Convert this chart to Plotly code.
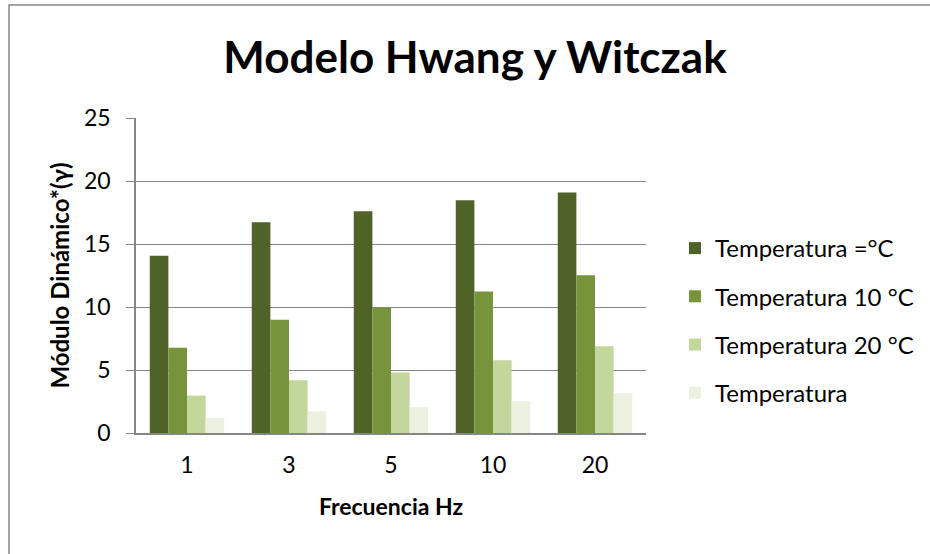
import plotly.graph_objects as go

categories = ["1", "3", "5", "10", "20"]
series_names = ["Temperatura =°C", "Temperatura 10 °C", "Temperatura 20 °C", "Temperatura"]
s1 = [14.07, 16.72, 17.6, 18.47, 19.08]
s2 = [6.76, 8.98, 9.97, 11.24, 12.51]
s3 = [2.97, 4.19, 4.8, 5.78, 6.89]
s4 = [1.19, 1.72, 2.04, 2.52, 3.16]
colors = ["#4F6228", "#77933C", "#C3D69B", "#EBF1DE"]
y_ticks = [0, 5, 10, 15, 20, 25]

FONT = "Lato, 'Open Sans', sans-serif"

fig = go.Figure()
for name, vals, col in zip(series_names, [s1, s2, s3, s4], colors):
    fig.add_trace(go.Bar(x=categories, y=vals, name=name, marker_color=col,
                         marker_line_width=0, legendgroup=name))

W, H = 930, 554
L, R, T, B = 136, 284, 118, 121
pw, ph = W - L - R, H - T - B

fig.update_layout(
    width=W, height=H,
    margin=dict(l=L, r=R, t=T, b=B, autoexpand=False),
    paper_bgcolor="white", plot_bgcolor="white",
    font=dict(family=FONT, color="black"),
    barmode="group", bargap=0.27, bargroupgap=0,
    title=dict(text="<b>Modelo Hwang y Witczak</b>", x=475 / W, xanchor="center",
               y=1 - 58 / H, yanchor="middle", font=dict(size=44, family=FONT)),
    xaxis=dict(type="category", showline=True, linecolor="#868686", linewidth=1.5,
               ticks="", tickfont=dict(size=23), showgrid=False, ticklabelstandoff=11,
               title=dict(text="<b>Frecuencia Hz</b>", font=dict(size=23), standoff=22)),
    yaxis=dict(range=[0, 25], tickvals=y_ticks, showgrid=True, gridcolor="#868686", gridwidth=1.3,
               showline=True, linecolor="#868686", linewidth=1.5, ticks="outside", ticklen=8,
               tickcolor="#868686", tickwidth=1.3, tickfont=dict(size=23), zeroline=False,
               ticklabelstandoff=11,
               title=dict(text="<b>Módulo Dinámico*(γ)</b>", font=dict(size=24), standoff=8)),
    legend=dict(x=(675 - L) / pw, xanchor="left", y=(H - B - 226) / ph, yanchor="top",
                font=dict(size=24), traceorder="grouped", tracegroupgap=14,
                bgcolor="rgba(0,0,0,0)"),
    showlegend=True,
)

fig.add_shape(type="rect", xref="paper", yref="paper",
              x0=(9 - L) / pw, x1=(945 - L) / pw,
              y0=(H - B - 570) / ph, y1=(H - B - 5) / ph,
              line=dict(color="#868686", width=1.5), layer="below")

fig.write_html("out.html", config={"displayModeBar": False},
               post_script="document.body.style.margin='0';")
